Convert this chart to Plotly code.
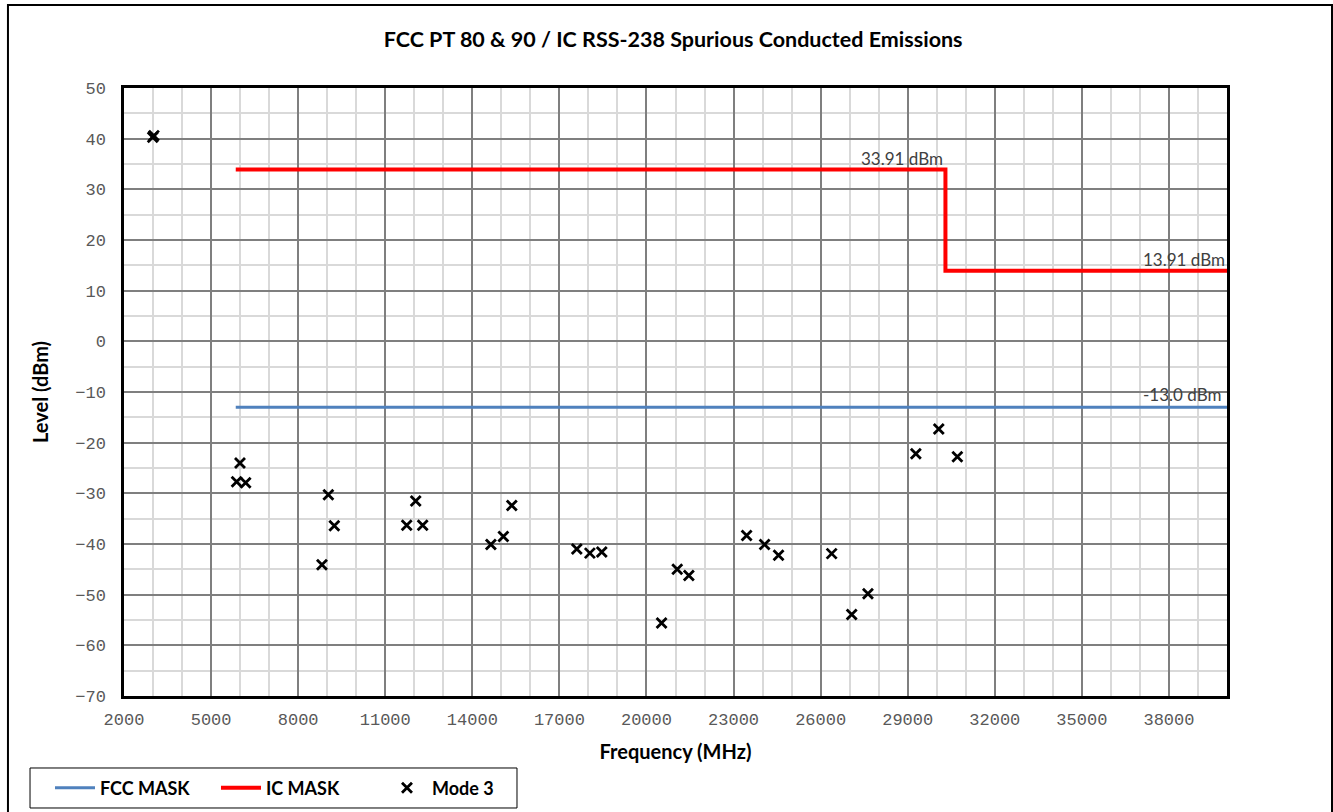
import plotly.graph_objects as go

# Spurious conducted emission measurements, Mode 3
freq_mhz = [2990, 3030, 5880, 5996, 6190, 8820, 9040, 9245, 11740, 12050, 12290,
            14640, 15070, 15360, 17600, 18050, 18460, 20520, 21060, 21460,
            23450, 24070, 24550, 26380, 27070, 27630, 29280, 30070, 30710]
level_dbm = [40.3, 40.6, -27.7, -24.0, -27.9, -44.1, -30.3, -36.4, -36.3, -31.5, -36.3,
             -40.1, -38.5, -32.4, -41.0, -41.8, -41.6, -55.6, -45.0, -46.2,
             -38.3, -40.1, -42.2, -41.9, -53.9, -49.8, -22.2, -17.3, -22.8]

# Regulatory limit masks
fcc_mask_x = [5850, 40000]
fcc_mask_y = [-13.0, -13.0]
ic_mask_x = [5850, 30300, 30300, 40000]
ic_mask_y = [33.91, 33.91, 13.91, 13.91]

x_range = [2000, 40000]
y_range = [-70, 50]

fig = go.Figure()

fig.add_trace(go.Scatter(
    x=fcc_mask_x, y=fcc_mask_y, mode="lines", name="FCC MASK",
    line=dict(color="#4f81bd", width=3),
))
fig.add_trace(go.Scatter(
    x=ic_mask_x, y=ic_mask_y, mode="lines", name="IC MASK",
    line=dict(color="#ff0000", width=4),
))
fig.add_trace(go.Scatter(
    x=freq_mhz, y=level_dbm, mode="markers", name="Mode 3",
    marker=dict(symbol="x-thin", size=10, color="black",
                line=dict(color="black", width=2.8)),
))

label_font = dict(family="Lato, Open Sans, sans-serif", size=17, color="#404040")
fig.add_annotation(x=ic_mask_x[1], y=ic_mask_y[1], text="33.91 dBm", showarrow=False,
                   xref="x", yref="y", xanchor="right", yanchor="bottom",
                   yshift=-1, font=label_font)
fig.add_annotation(x=ic_mask_x[3], y=ic_mask_y[3], text="13.91 dBm", showarrow=False,
                   xref="x", yref="y", xanchor="right", yanchor="bottom",
                   yshift=-1, font=label_font)
fig.add_annotation(x=fcc_mask_x[1], y=fcc_mask_y[1], text="-13.0 dBm", showarrow=False,
                   xref="x", yref="y", xanchor="right", yanchor="bottom",
                   xshift=-4, yshift=0, font=label_font)

# Outer chart-area border
fig.add_shape(type="rect", xref="paper", yref="paper",
              x0=-0.1052, x1=1.0952, y0=-0.20, y1=1.1365,
              line=dict(color="black", width=2), fillcolor="rgba(0,0,0,0)",
              layer="above")
# Legend frame
fig.add_shape(type="rect", xref="paper", yref="paper",
              x0=-0.0852, x1=0.3563, y0=-0.1842, y1=-0.1184,
              line=dict(color="black", width=1), fillcolor="rgba(0,0,0,0)",
              layer="above")

tick_font = dict(family="Liberation Mono, DejaVu Sans Mono, monospace", size=17,
                 color="#595959")
title_font = dict(family="Lato, Open Sans, sans-serif", size=20, color="black",
                  weight="bold")

fig.update_layout(
    width=1333, height=812,
    margin=dict(l=124, r=106, t=88, b=116, autoexpand=False),
    paper_bgcolor="white", plot_bgcolor="white",
    title=dict(text="FCC PT 80 & 90 / IC RSS-238 Spurious Conducted Emissions",
               x=0.505, xanchor="center", y=0.951, yanchor="middle",
               font=dict(family="Lato, Open Sans, sans-serif", size=21.5,
                         color="black", weight="bold")),
    xaxis=dict(
        range=x_range, tick0=2000, dtick=3000, tickformat="d",
        showgrid=True, gridcolor="#7f7f7f", gridwidth=1.6,
        minor=dict(tick0=2000, dtick=1000, showgrid=True,
                   gridcolor="#d9d9d9", gridwidth=1.6),
        showline=True, linecolor="black", linewidth=2.5, mirror=True,
        zeroline=False, tickfont=tick_font, ticklabelstandoff=6,
        automargin=False,
        title=dict(text="Frequency (MHz)", font=title_font, standoff=16),
    ),
    yaxis=dict(
        range=y_range, dtick=10,
        showgrid=True, gridcolor="#7f7f7f", gridwidth=1.6,
        minor=dict(dtick=5, showgrid=True, gridcolor="#d9d9d9", gridwidth=1.6),
        showline=True, linecolor="black", linewidth=2.5, mirror=True,
        zeroline=False, tickfont=tick_font, ticklabelstandoff=12,
        automargin=False,
        title=dict(text="Level (dBm)", font=title_font, standoff=22),
    ),
    legend=dict(
        orientation="h", x=-0.0671, y=-0.1513, xanchor="left", yanchor="middle",
        borderwidth=0, bgcolor="rgba(0,0,0,0)",
        font=dict(family="Lato, Open Sans, sans-serif", size=18, color="black",
                  weight="bold"),
        itemwidth=40, entrywidth=111, entrywidthmode="pixels",
    ),
    showlegend=True,
)

fig.write_html("out.html")
